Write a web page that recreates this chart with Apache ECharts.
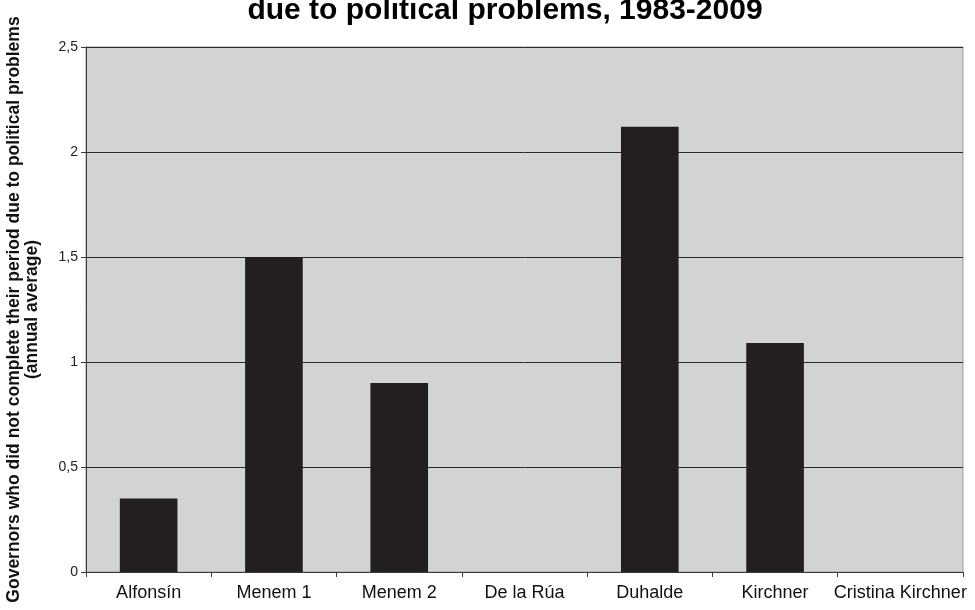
<!DOCTYPE html>
<html>
<head>
<meta charset="utf-8">
<script src="https://cdn.jsdelivr.net/npm/echarts@6/dist/echarts.min.js"></script>
<style>
  html, body { margin: 0; padding: 0; background: #fff; }
  #chart { width: 975px; height: 610px; }
</style>
</head>
<body>
<div id="chart"></div>
<script>
// data
const categories = ['Alfonsín', 'Menem 1', 'Menem 2', 'De la Rúa', 'Duhalde', 'Kirchner', 'Cristina Kirchner']
const values = [0.35, 1.5, 0.9, 0, 2.12, 1.09, 0]

const chart = echarts.init(document.getElementById('chart'))
const font = 'Liberation Sans, Arial, sans-serif'

chart.setOption({
    animation: false,
    title: {
        text: 'due to political problems, 1983-2009',
        left: 500,
        textAlign: 'center',
        top: -9,
        textStyle: { fontFamily: font, fontSize: 30, fontWeight: 'bold', color: '#000' },
    },
    grid: {
        left: 86,
        right: 12,
        top: 47,
        bottom: 38,
        outerBoundsMode: 'none',
        show: true,
        backgroundColor: '#d2d3d5',
        borderColor: '#9a9a9a',
        borderWidth: 1,
    },
    xAxis: {
        type: 'category',
        data: categories,
        axisLine: { lineStyle: { color: '#3a3a3a', width: 1 } },
        axisTick: { show: true, length: 5, alignWithLabel: false, lineStyle: { color: '#3a3a3a' } },
        axisLabel: { fontFamily: font, fontSize: 18, color: '#111', margin: 12, interval: 0 },
    },
    yAxis: {
        type: 'value',
        min: 0,
        max: 2.5,
        interval: 0.5,
        name: 'Governors who did not complete their period due to political problems\n(annual average)',
        nameLocation: 'middle',
        nameGap: 45,
        nameTextStyle: { fontFamily: font, fontSize: 17.5, fontWeight: 'bold', color: '#111', lineHeight: 18 },
        axisLine: { show: true, lineStyle: { color: '#3a3a3a', width: 1 } },
        axisTick: { show: true, length: 5, lineStyle: { color: '#3a3a3a' } },
        axisLabel: {
            fontFamily: font, fontSize: 14, color: '#222', margin: 8,
            formatter: v => String(v).replace('.', ','),
        },
        splitLine: { lineStyle: { color: '#2a2a2a', width: 1 } },
    },
    series: [
        {
            type: 'bar',
            data: values,
            barWidth: '46%',
            itemStyle: { color: '#231f20' },
        },
    ],
})
</script>
</body>
</html>
